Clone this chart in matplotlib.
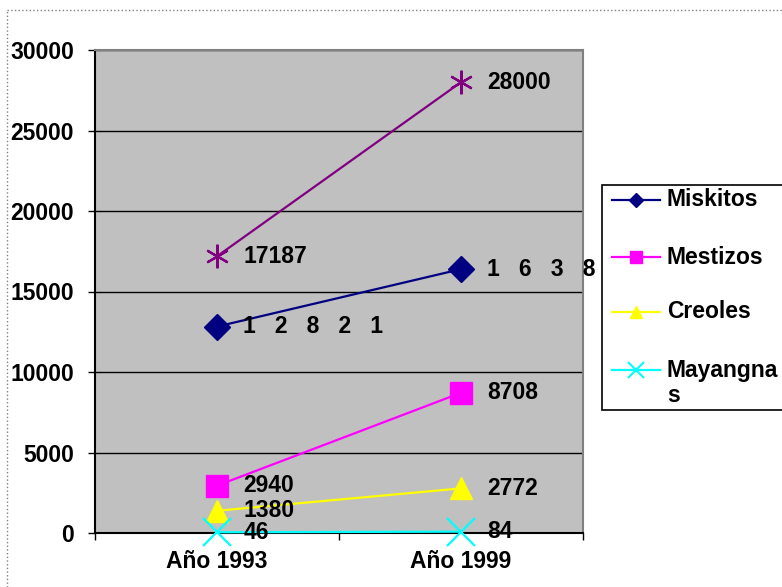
import matplotlib
matplotlib.use("Agg")
import matplotlib.pyplot as plt
from matplotlib.lines import Line2D
from matplotlib.patches import Rectangle

categories = ["Año 1993", "Año 1999"]
total = [17187, 28000]
miskitos = [12821, 16388]
mestizos = [2940, 8708]
creoles = [1380, 2772]
mayangnas = [46, 84]
yticks = [0, 5000, 10000, 15000, 20000, 25000, 30000]

FONT = "Liberation Sans"
FS = 16.5
plt.rcParams['font.family'] = [FONT, 'DejaVu Sans']
plt.rcParams['font.weight'] = 'bold'

W, H = 782, 587
fig = plt.figure(figsize=(W / 100, H / 100), dpi=100)
ax = fig.add_axes([95 / W, 1 - 533 / H, (583 - 95) / W, (533 - 50) / H])
ax.set_facecolor("#C0C0C0")

x = list(range(len(categories)))
series = [
    (total, "#800080", (6, 2, 0), 17, None),
    (miskitos, "#000080", "D", 13, "Miskitos"),
    (mestizos, "#FF00FF", "s", 16, "Mestizos"),
    (creoles, "#FFFF00", "^", 16, "Creoles"),
    (mayangnas, "#00FFFF", "x", 20, "Mayangnas"),
]
for vals, col, mk, ms, lab in series:
    ax.plot(x, vals, color=col, lw=1.6, marker=mk, ms=ms,
            mew=1.6 if (mk == "x" or isinstance(mk, tuple)) else 1,
            mfc=col, mec=col, clip_on=False, zorder=3)

def spaced(v):
    return "   ".join(str(v))

for vals, col, mk, ms, lab in series:
    for xi, v in zip(x, vals):
        txt = spaced(v) if lab == "Miskitos" else str(v)
        ax.annotate(txt, (xi, v), xytext=(19, 0), textcoords="offset points",
                    ha="left", va="center", fontsize=FS, fontweight="bold",
                    annotation_clip=False, zorder=4)

ax.set_xlim(-0.5, 1.5)
ax.set_ylim(0, 30000)
ax.set_yticks(yticks)
ax.set_yticklabels([str(t) for t in yticks])
ax.yaxis.grid(True, color="black", lw=1)
ax.set_axisbelow(True)
ax.set_xticks(x)
ax.set_xticklabels(categories)
ax.set_xticks([-0.5, 0.5, 1.5], minor=True)
ax.tick_params(axis="x", which="major", length=0, pad=12, labelsize=FS)
ax.tick_params(axis="x", which="minor", length=5, width=1, direction="out")
ax.tick_params(axis="y", length=5, width=1, direction="out", pad=10, labelsize=FS)
for lbl in ax.get_xticklabels() + ax.get_yticklabels():
    lbl.set_fontweight("bold")
ax.spines["left"].set_color("black")
ax.spines["bottom"].set_color("black")
ax.spines["top"].set_color("#808080")
ax.spines["right"].set_color("#808080")
for s in ax.spines.values():
    s.set_linewidth(1.5)

# dotted outer border (left and top)
fig.add_artist(Line2D([7 / W, 7 / W], [0, 1 - 10 / H], transform=fig.transFigure,
                      color="#808080", lw=1, ls=":"))
fig.add_artist(Line2D([7 / W, 1], [1 - 10 / H, 1 - 10 / H], transform=fig.transFigure,
                      color="#808080", lw=1, ls=":"))

# legend
lx0, ly_top, ly_bot = 602, 185, 410
fig.add_artist(Rectangle((lx0 / W, 1 - ly_bot / H), (W + 40 - lx0) / W, (ly_bot - ly_top) / H,
                         transform=fig.transFigure, facecolor="white", edgecolor="black",
                         lw=1.2, zorder=10, clip_on=False))
rows = [200, 257, 312, 370]
leg_labels = ["Miskitos", "Mestizos", "Creoles", "Mayangna"]
for (vals, col, mk, ms, lab), ry, ll in zip(series[1:], rows, leg_labels):
    yy = 1 - ry / H
    fig.add_artist(Line2D([612 / W, 660 / W], [yy, yy], transform=fig.transFigure,
                          color=col, lw=1.6, zorder=11))
    fig.add_artist(Line2D([636 / W], [yy], transform=fig.transFigure, color=col,
                          marker=mk, ms=ms * 0.55, mfc=col, mec=col,
                          mew=1.5 if mk == "x" else 1, zorder=11))
    fig.text(667 / W, yy, ll, transform=fig.transFigure, ha="left", va="center",
             fontsize=FS, fontweight="bold", zorder=12)
fig.text(667 / W, 1 - 396 / H, "s", transform=fig.transFigure, ha="left", va="center",
         fontsize=FS, fontweight="bold", zorder=12)

fig.savefig("out.png", dpi=100)
